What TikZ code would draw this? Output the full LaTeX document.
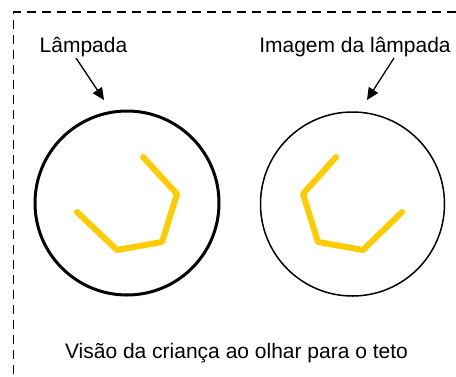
\documentclass[tikz,border=0pt]{standalone}
\usepackage{fontspec}
\setmainfont{Liberation Sans}
\usetikzlibrary{arrows.meta}
\definecolor{lampyellow}{HTML}{FFCC00}
\begin{document}
\begin{tikzpicture}[x=1pt,y=-1pt,
  lbl/.style={anchor=base,inner sep=0pt,font=\fontsize{21}{25}\selectfont},
  pointer/.style={line width=1.3pt,-{Triangle[length=12pt,width=11pt]}},
  filament/.style={draw=lampyellow,line width=6pt,line cap=round,line join=round},
  frame/.style={line width=1.2pt,dash pattern=on 9pt off 6pt}]
\useasboundingbox (0,0) rectangle (456,376);
% frame
\draw[frame] (456,12) -- (13.5,12) -- (13.5,376);
% labels
\node[lbl] (lamp) at (83.5,52) {Lâmpada};
\node[lbl] (img) at (355,52) {Imagem da lâmpada};
\node[lbl] (caption) at (236.5,358) {Visão da criança ao olhar para o teto};
% circles
\node[draw,circle,line width=3pt,minimum size=184pt,inner sep=0pt] (lampc) at (127,203) {};
\node[draw,circle,line width=1.5pt,minimum size=184pt,inner sep=0pt] (imgc) at (352.5,204) {};
% arrows
\coordinate (a1s) at (76,58);
\coordinate (a1e) at (104,100);
\coordinate (a2s) at (394,58);
\coordinate (a2e) at (367,100);
\draw[pointer] (a1s) -- (a1e);
\draw[pointer] (a2s) -- (a2e);
% filaments
\draw[filament] (143,157) -- (177,194) -- (162,242) -- (117,250) -- (77,212);
\draw[filament] (336,157) -- (303,194) -- (318,242) -- (363,250) -- (402,212);
\end{tikzpicture}
\end{document}
